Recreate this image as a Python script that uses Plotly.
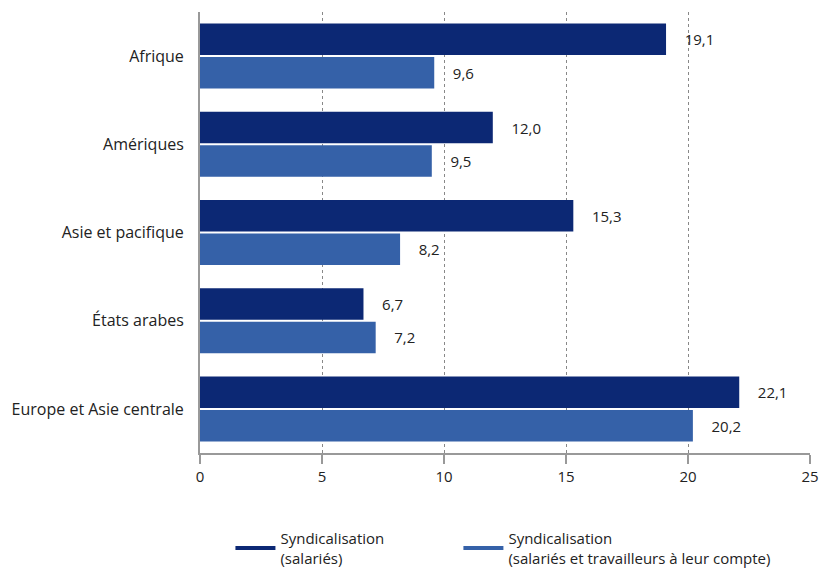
import plotly.graph_objects as go

categories = ["Afrique", "Amériques", "Asie et pacifique", "États arabes", "Europe et Asie centrale"]
salaries = [19.1, 12.0, 15.3, 6.7, 22.1]
salaries_compte = [9.6, 9.5, 8.2, 7.2, 20.2]
series_names = ["Syndicalisation<br>(salariés)", "Syndicalisation<br>(salariés et travailleurs à leur compte)"]
colors = ["#0c2874", "#3561a8"]
tick_vals = [0, 5, 10, 15, 20, 25]

def fmt(v):
    return "    " + f"{v:.1f}".replace(".", ",")

fig = go.Figure()
for vals, col in zip([salaries, salaries_compte], colors):
    fig.add_trace(go.Bar(
        y=categories, x=vals, orientation="h", marker=dict(color=col, line=dict(width=0)),
        text=[fmt(v) for v in vals], textposition="outside", cliponaxis=False,
        textfont=dict(size=15, color="#222222"), showlegend=False, hoverinfo="skip"))
for name, col, lg in zip(series_names, colors, ["legend", "legend2"]):
    fig.add_trace(go.Scatter(x=[None], y=[None], mode="lines", name=name, legend=lg,
                             line=dict(color=col, width=4)))

leg_common = dict(orientation="h", xanchor="left", yref="container", y=0.084, yanchor="top",
                  font=dict(size=15), itemwidth=40, xref="container",
                  bgcolor="rgba(0,0,0,0)")
fig.update_layout(
    width=823, height=570, margin=dict(l=200, r=13, t=12, b=117, autoexpand=False),
    paper_bgcolor="white", plot_bgcolor="white",
    font=dict(family="Open Sans, sans-serif", size=16, color="#222222"),
    barmode="group", bargap=0.24, bargroupgap=0.06,
    legend=dict(x=0.28, **leg_common),
    legend2=dict(x=0.557, **leg_common),
)
fig.update_xaxes(range=[0, 25], tickvals=tick_vals, ticktext=[str(t) for t in tick_vals],
                 showgrid=True, gridcolor="#888888", griddash="dot", gridwidth=1,
                 showline=True, linecolor="#999999", linewidth=2,
                 ticks="outside", ticklen=9, tickcolor="#999999", tickwidth=2,
                 zeroline=False, tickfont=dict(size=15), automargin=False)
fig.update_yaxes(autorange="reversed", showline=True, linecolor="#999999", linewidth=2,
                 ticks="", ticklabelstandoff=11, tickfont=dict(size=16), automargin=False)

fig.write_html("out.html")
